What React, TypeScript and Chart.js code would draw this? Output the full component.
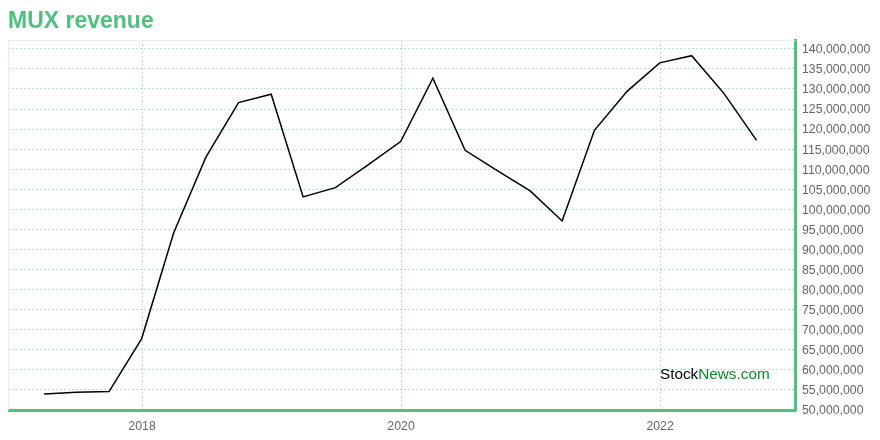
import React, { useEffect, useRef } from "react";
import Chart from "chart.js/auto";

const quarterDates = [
  "2017-03-31", "2017-06-30", "2017-09-30", "2017-12-31",
  "2018-03-31", "2018-06-30", "2018-09-30", "2018-12-31",
  "2019-03-31", "2019-06-30", "2019-09-30", "2019-12-31",
  "2020-03-31", "2020-06-30", "2020-09-30", "2020-12-31",
  "2021-03-31", "2021-06-30", "2021-09-30", "2021-12-31",
  "2022-03-31", "2022-06-30", "2022-09-30",
];

const revenue = [
  54000000, 54400000, 54600000, 67800000,
  94100000, 113000000, 126600000, 128700000,
  103100000, 105400000, 111100000, 116900000,
  132700000, 114700000, 109600000, 104600000,
  97100000, 119700000, 129400000, 136500000,
  138300000, 128900000, 117200000,
];

const xTickYears = [2018, 2020, 2022];
const yTickValues = [
  50000000, 55000000, 60000000, 65000000, 70000000, 75000000, 80000000,
  85000000, 90000000, 95000000, 100000000, 105000000, 110000000, 115000000,
  120000000, 125000000, 130000000, 135000000, 140000000,
];

const GREEN = "rgb(78,193,126)";
const GRID = "rgba(120,210,160,0.55)";
const FONT = "'Liberation Sans', Arial, Helvetica, sans-serif";

function toYear(d: string): number {
  const [y, m, day] = d.split("-").map(Number);
  const start = Date.UTC(y, 0, 1);
  const end = Date.UTC(y + 1, 0, 1);
  return y + (Date.UTC(y, m - 1, day) - start) / (end - start);
}

const framePlugin = {
  id: "frame",
  beforeDatasetsDraw(chart: any) {
    const { ctx, chartArea } = chart;
    const { left, top, right, bottom } = chartArea;
    ctx.save();
    ctx.strokeStyle = "#ececec";
    ctx.lineWidth = 1;
    ctx.beginPath();
    ctx.moveTo(left + 0.5, bottom);
    ctx.lineTo(left + 0.5, top + 0.5);
    ctx.lineTo(right, top + 0.5);
    ctx.stroke();
    ctx.restore();
  },
  afterDatasetsDraw(chart: any) {
    const { ctx, chartArea } = chart;
    const x = chartArea.right - 135;
    const y = chartArea.bottom - 31.5;
    ctx.save();
    ctx.font = `15.3px ${FONT}`;
    ctx.textBaseline = "alphabetic";
    ctx.textAlign = "left";
    ctx.fillStyle = "#000000";
    ctx.fillText("Stock", x, y);
    const w = ctx.measureText("Stock").width;
    ctx.fillStyle = "#0a8a2e";
    ctx.fillText("News.com", x + w, y);
    ctx.restore();
  },
};

export default function App() {
  const canvasRef = useRef<HTMLCanvasElement | null>(null);

  useEffect(() => {
    if (!canvasRef.current) return;
    const points = quarterDates.map((d, i) => ({ x: toYear(d), y: revenue[i] }));
    const chart = new Chart(canvasRef.current, {
      type: "line",
      data: {
        datasets: [
          {
            data: points,
            borderColor: "#000000",
            borderWidth: 1.5,
            pointRadius: 0,
            tension: 0,
            fill: false,
          },
        ],
      },
      options: {
        animation: false,
        responsive: true,
        maintainAspectRatio: false,
        layout: { padding: 0 },
        plugins: {
          legend: { display: false },
          tooltip: { enabled: false },
          title: {
            display: true,
            text: "MUX revenue",
            align: "start",
            color: GREEN,
            font: { size: 23, weight: "bold", family: FONT },
            padding: { top: 0, bottom: 4.4 },
          },
        },
        scales: {
          x: {
            type: "linear",
            min: 2016.965,
            max: 2023.042,
            afterBuildTicks(scale: any) {
              scale.ticks = xTickYears.map((v) => ({ value: v }));
            },
            afterFit(scale: any) {
              scale.height = 22;
            },
            ticks: {
              color: "#666666",
              font: { size: 12.3, family: FONT },
              padding: 9,
              maxRotation: 0,
              callback: (v: any) => String(v),
            },
            grid: { color: GRID, drawTicks: false, lineWidth: 1 },
            border: { display: true, color: GREEN, width: 3, dash: [2, 2] },
          },
          y: {
            position: "right",
            min: 50000000,
            max: 142200000,
            afterBuildTicks(scale: any) {
              scale.ticks = yTickValues.map((v) => ({ value: v }));
            },
            afterFit(scale: any) {
              scale.width = 77;
            },
            ticks: {
              color: "#666666",
              font: { size: 12.3, family: FONT },
              padding: 7,
              labelOffset: 1,
              callback: (v: any) => Number(v).toLocaleString("en-US"),
            },
            grid: { color: GRID, drawTicks: false, lineWidth: 1 },
            border: { display: true, color: GREEN, width: 3, dash: [2, 2] },
          },
        },
      },
      plugins: [framePlugin],
    });
    return () => chart.destroy();
  }, []);

  return (
    <div style={{ position: "relative", width: "100%", height: 424 }}>
      <canvas ref={canvasRef} />
    </div>
  );
}
